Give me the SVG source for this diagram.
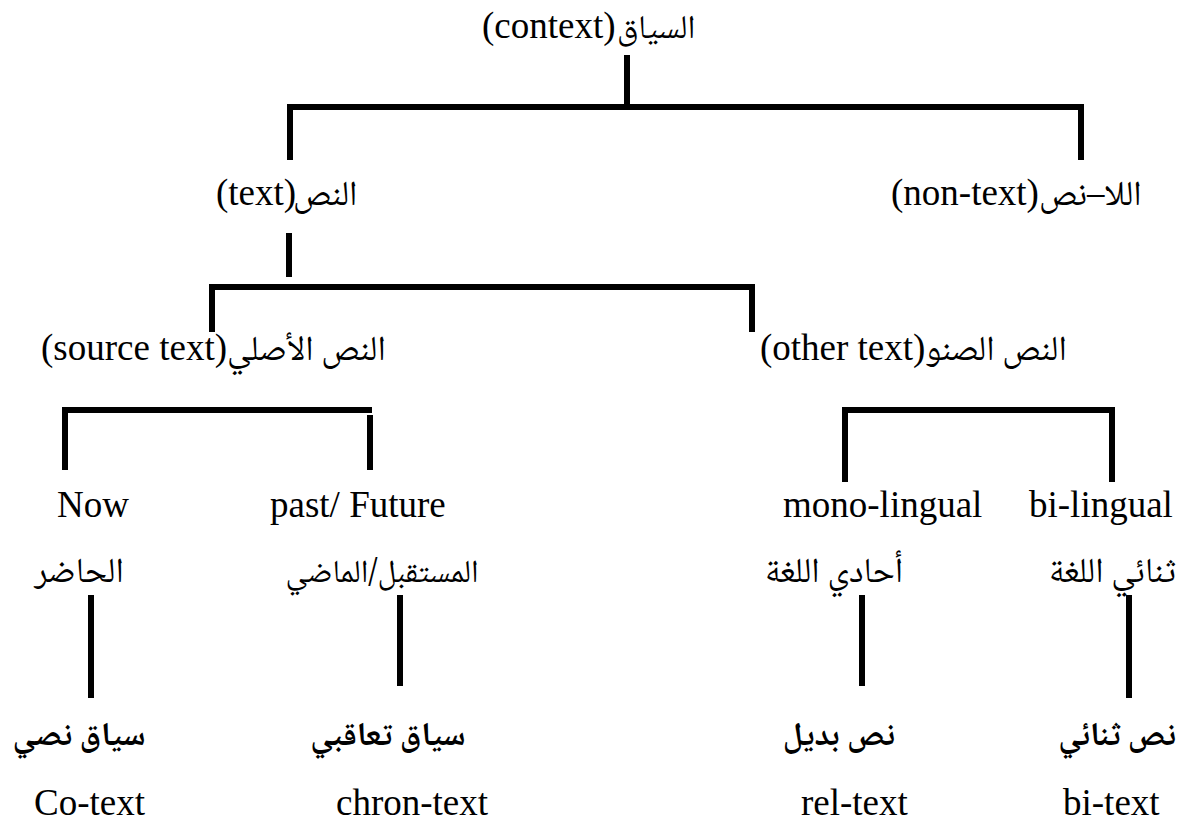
<svg xmlns="http://www.w3.org/2000/svg" width="1185" height="825" viewBox="0 0 1185 825">
<style>
.en{font-family:"Liberation Serif","Times New Roman",serif;font-size:37px;fill:#000}
.ar{font-family:"Noto Naskh Arabic","Noto Sans Arabic","DejaVu Sans","Liberation Serif",serif;font-size:35px;fill:#000}
.arb{font-family:"Noto Naskh Arabic","Noto Sans Arabic","DejaVu Sans","Liberation Serif",serif;font-size:33px;font-weight:bold;fill:#000}
.ln{stroke:#000;stroke-width:6;fill:none;stroke-linecap:butt}
</style>
<rect width="1185" height="825" fill="#fff"/>
<g id="connectors">
<path class="ln" d="M627,55 V107"/>
<path class="ln" d="M290,160 V107 H1081 V160"/>
<path class="ln" d="M289,233 V277"/>
<path class="ln" d="M212,332 V287 H752 V332"/>
<path class="ln" d="M65,470 V410 H372"/>
<path class="ln" d="M370,415 V470"/>
<path class="ln" d="M845,482 V410 H1112 V482"/>
<path class="ln" d="M91,595 V698"/>
<path class="ln" d="M400,595 V686"/>
<path class="ln" d="M862,595 V686"/>
<path class="ln" d="M1129,595 V698"/>
</g>
<g id="context">
<text class="en" x="482" y="38">(context)</text>
<text class="ar" x="617" y="38" style="font-size:33px">السياق</text>
</g>
<g id="text">
<text class="en" x="296" y="205" text-anchor="end">(text)</text>
<text class="ar" x="293" y="205">النص</text>
</g>
<g id="non-text">
<text class="en" x="891" y="205">(non-text)</text>
<text class="ar" x="1039" y="205">اللا–نص</text>
</g>
<g id="source-text">
<text class="en" x="227" y="360" text-anchor="end">(source text)</text>
<text class="ar" x="227" y="360">النص الأصلي</text>
</g>
<g id="other-text">
<text class="en" x="760" y="360">(other text)</text>
<text class="ar" x="925" y="360">النص الصنو</text>
</g>
<g id="now">
<text class="en" x="57" y="517">Now</text>
<text class="ar" x="79" y="582" text-anchor="middle">الحاضر</text>
</g>
<g id="past-future">
<text class="en" x="270" y="517">past/ Future</text>
<text class="ar" x="382" y="582" text-anchor="middle" style="font-size:32px">المستقبل/الماضي</text>
</g>
<g id="mono-lingual">
<text class="en" x="783" y="517">mono-lingual</text>
<text class="ar" x="834" y="582" text-anchor="middle">أحادي اللغة</text>
</g>
<g id="bi-lingual">
<text class="en" x="1029" y="517">bi-lingual</text>
<text class="ar" x="1176" y="582" text-anchor="end">ثنائي اللغة</text>
</g>
<g id="co-text">
<text class="arb" x="79" y="745" text-anchor="middle">سياق نصي</text>
<text class="en" x="34" y="815">Co-text</text>
</g>
<g id="chron-text">
<text class="arb" x="388" y="745" text-anchor="middle">سياق تعاقبي</text>
<text class="en" x="336" y="815">chron-text</text>
</g>
<g id="rel-text">
<text class="arb" x="839" y="745" text-anchor="middle">نص بديل</text>
<text class="en" x="801" y="815">rel-text</text>
</g>
<g id="bi-text">
<text class="arb" x="1176" y="745" text-anchor="end">نص ثنائي</text>
<text class="en" x="1063" y="815">bi-text</text>
</g>
</svg>
